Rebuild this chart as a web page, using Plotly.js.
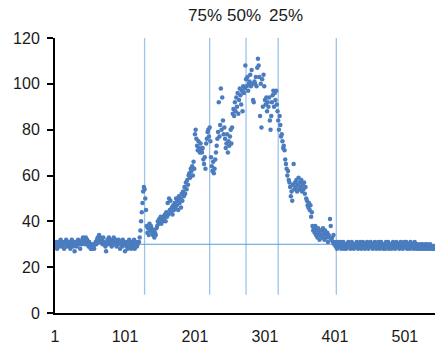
<!DOCTYPE html>
<html>
<head>
<meta charset="utf-8">
<script src="https://cdn.plot.ly/plotly-3.0.1.min.js"></script>
<style>html,body{margin:0;padding:0;background:#fff;}#chart{width:435px;height:347px;}</style>
</head>
<body>
<div id="chart"></div>
<script>
// Signal values, one per sample index (1..544)
const signal = [
30,29,31,28,30,31,29,30,32,30,
29,31,30,28,31,30,32,29,30,31,
30,29,28,31,32,30,29,31,27,30,
31,29,30,32,31,30,28,31,30,32,
33,31,32,30,33,31,32,30,29,31,
30,28,29,28,30,29,28,30,31,30,
32,33,31,34,32,33,31,32,30,33,
31,30,29,27,30,32,31,33,30,32,
31,29,30,32,33,31,30,32,29,31,
30,32,31,28,30,31,29,32,30,31,
27,30,29,31,28,30,32,29,30,28,
31,29,30,32,28,30,31,29,30,31,
31,33,36,40,44,48,53,55,54,50,
45,38,35,37,34,39,36,38,37,35,
34,36,33,35,34,37,38,40,39,41,
40,42,39,41,40,42,41,43,40,44,
42,48,43,50,45,49,44,46,43,47,
45,48,46,50,47,49,45,51,48,50,
46,52,49,53,51,55,52,57,54,58,
56,60,61,59,63,62,64,60,66,63,
78,80,76,73,71,75,72,70,74,71,
70,72,67,65,68,63,74,76,79,80,
77,81,75,68,64,62,66,61,63,67,
70,73,76,79,92,77,82,98,80,94,
84,78,81,76,72,74,78,70,75,73,
77,80,74,81,87,89,86,92,88,94,
90,96,87,93,98,95,91,97,88,99,
96,98,108,102,99,103,97,100,101,104,
99,106,100,93,92,101,100,103,99,107,
111,108,103,86,100,81,102,90,104,99,
93,91,94,88,92,90,94,84,80,86,
92,95,97,90,96,93,97,91,88,84,
80,86,82,77,78,75,72,73,71,67,
65,63,60,62,58,57,55,51,53,49,
56,65,54,57,55,58,53,56,59,54,
57,55,58,53,56,54,57,52,55,50,
49,47,46,48,45,47,42,44,38,36,
37,35,38,34,36,33,37,35,32,34,
36,34,33,37,35,32,36,34,33,35,
31,34,33,41,38,32,33,31,34,30,
31,29,30,28,31,29,30,29,31,28,
30,29,31,28,30,29,28,30,29,31,
29,30,28,29,31,30,29,28,30,29,
30,31,29,28,30,29,31,30,28,29,
31,29,30,28,29,30,31,29,28,30,
29,31,30,29,28,30,29,31,30,28,
30,29,31,29,28,30,31,29,30,28,
29,30,28,31,30,29,31,28,30,29,
30,28,29,31,30,29,28,30,31,29,
29,30,28,30,31,29,30,28,29,31,
30,29,31,28,30,29,30,28,31,29,
29,30,28,29,31,30,28,29,30,28,
29,28,30,29,28,30,29,28,29,30,
28,29,30,28,29,28,30,29,28,29,
28,29,28,29
];
const sampleIndex = signal.map((_, i) => i + 1);

// Reference levels
const baseline = 30;
const markerPositions = [129, 222, 274, 320, 403];
const markerBottom = 8;
const markerTop = 120;
const percentLabels = ['75%', '50%', '25%'];
const percentLabelX = [215, 271, 331];

// Axis ticks
const xTickVals = [1, 101, 201, 301, 401, 501];
const xTickText = ['1', '101', '201', '301', '401', '501'];
const yTickVals = [0, 20, 40, 60, 80, 100, 120];

const shapes = markerPositions.map(x => ({
  type: 'line', xref: 'x', yref: 'y', x0: x, x1: x, y0: markerBottom, y1: markerTop,
  line: {color: '#9DC3E6', width: 1.3}, layer: 'below'
}));
shapes.push({
  type: 'line', xref: 'x', yref: 'y', x0: 1, x1: sampleIndex.length, y0: baseline, y1: baseline,
  line: {color: '#5B9BD5', width: 1}, layer: 'below'
});

const annotations = percentLabels.map((t, i) => ({
  text: t, xref: 'x', yref: 'paper', x: percentLabelX[i], y: 1,
  yanchor: 'bottom', xanchor: 'center', yshift: 11, showarrow: false,
  font: {family: 'Liberation Sans, Arial, sans-serif', size: 17, color: '#1a1a1a'}
}));

const trace = {
  x: sampleIndex, y: signal, type: 'scatter', mode: 'markers',
  marker: {size: 4.5, color: '#4A7CBF'},
  hoverinfo: 'skip', cliponaxis: true
};

const layout = {
  width: 435, height: 347,
  margin: {l: 55, r: 0, t: 38, b: 34, pad: 0},
  paper_bgcolor: '#fff', plot_bgcolor: '#fff',
  showlegend: false,
  font: {family: 'Liberation Sans, Arial, sans-serif', size: 16, color: '#1a1a1a'},
  xaxis: {
    range: [1, sampleIndex.length], showgrid: false, zeroline: false,
    showline: true, linecolor: '#000', linewidth: 2,
    ticks: '', tickvals: xTickVals, ticktext: xTickText,
    ticklabelstandoff: 8, fixedrange: true
  },
  yaxis: {
    range: [0, 120], showgrid: false, zeroline: false,
    showline: true, linecolor: '#000', linewidth: 2,
    ticks: 'outside', ticklen: 6, tickwidth: 2, tickcolor: '#000',
    tickvals: yTickVals, ticklabelstandoff: 4, fixedrange: true
  },
  shapes: shapes,
  annotations: annotations
};

Plotly.newPlot('chart', [trace], layout, {staticPlot: true, displayModeBar: false});
</script>
</body>
</html>
